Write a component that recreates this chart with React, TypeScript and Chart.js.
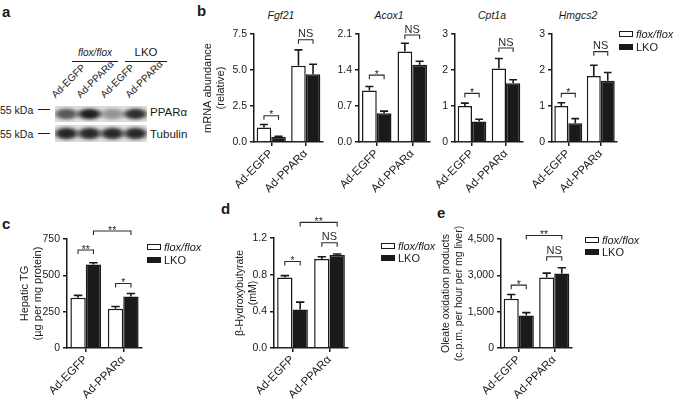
import React, { useEffect, useRef } from "react";
import { Chart, registerables } from "chart.js";

Chart.register(...registerables);

const FONT = "'Liberation Sans', Arial, Helvetica, sans-serif";
const INK = "#1a1a1a";

// ---------- data ----------
const groups = ["Ad-EGFP", "Ad-PPARα"];
const seriesNames = ["flox/flox", "LKO"];

// b: mRNA abundance (relative)
const fgf21Flox = [1.0, 5.3];
const fgf21FloxErr = [0.22, 1.1];
const fgf21Lko = [0.37, 4.7];
const fgf21LkoErr = [0.03, 0.7];
const fgf21Ticks = [0, 2.5, 5, 7.5];

const acox1Flox = [1.0, 1.76];
const acox1FloxErr = [0.08, 0.16];
const acox1Lko = [0.56, 1.5];
const acox1LkoErr = [0.04, 0.07];
const acox1Ticks = [0, 0.7, 1.4, 2.1];

const cpt1aFlox = [1.0, 2.04];
const cpt1aFloxErr = [0.08, 0.28];
const cpt1aLko = [0.57, 1.63];
const cpt1aLkoErr = [0.06, 0.1];
const cpt1aTicks = [0, 1, 2, 3];

const hmgcs2Flox = [1.0, 1.83];
const hmgcs2FloxErr = [0.09, 0.3];
const hmgcs2Lko = [0.52, 1.7];
const hmgcs2LkoErr = [0.13, 0.23];
const hmgcs2Ticks = [0, 1, 2, 3];

// c: hepatic TG
const tgFlox = [345, 270];
const tgFloxErr = [17, 16];
const tgLko = [575, 355];
const tgLkoErr = [12, 20];
const tgTicks = [0, 250, 500, 750];

// d: beta-hydroxybutyrate
const bhbFlox = [0.77, 0.97];
const bhbFloxErr = [0.02, 0.025];
const bhbLko = [0.42, 1.015];
const bhbLkoErr = [0.08, 0.01];
const bhbTicks = [0, 0.4, 0.8, 1.2];

// e: oleate oxidation
const oxFlox = [2030, 2910];
const oxFloxErr = [180, 180];
const oxLko = [1340, 3080];
const oxLkoErr = [120, 230];
const oxTicks = [0, 1500, 3000, 4500];

// significance brackets: from [dataset, category] to [dataset, category] at value y
type Bracket = { a: [number, number]; b: [number, number]; y: number; label: string };
const fgf21Sig: Bracket[] = [
  { a: [0, 0], b: [1, 0], y: 1.82, label: "*" },
  { a: [0, 1], b: [1, 1], y: 7.1, label: "NS" },
];
const acox1Sig: Bracket[] = [
  { a: [0, 0], b: [1, 0], y: 1.3, label: "*" },
  { a: [0, 1], b: [1, 1], y: 2.08, label: "NS" },
];
const cpt1aSig: Bracket[] = [
  { a: [0, 0], b: [1, 0], y: 1.35, label: "*" },
  { a: [0, 1], b: [1, 1], y: 2.61, label: "NS" },
];
const hmgcs2Sig: Bracket[] = [
  { a: [0, 0], b: [1, 0], y: 1.35, label: "*" },
  { a: [0, 1], b: [1, 1], y: 2.51, label: "NS" },
];
const tgSig: Bracket[] = [
  { a: [0, 0], b: [1, 0], y: 674, label: "**" },
  { a: [0, 1], b: [1, 1], y: 444, label: "*" },
  { a: [1, 0], b: [1, 1], y: 805, label: "**" },
];
const bhbSig: Bracket[] = [
  { a: [0, 0], b: [1, 0], y: 0.943, label: "*" },
  { a: [0, 1], b: [1, 1], y: 1.148, label: "NS" },
  { a: [1, 0], b: [1, 1], y: 1.37, label: "**" },
];
const oxSig: Bracket[] = [
  { a: [0, 0], b: [1, 0], y: 2595, label: "*" },
  { a: [0, 1], b: [1, 1], y: 3767, label: "NS" },
  { a: [1, 0], b: [1, 1], y: 4644, label: "**" },
];

// western blot
const blotLanes = ["Ad-EGFP", "Ad-PPARα", "Ad-EGFP", "Ad-PPARα"];
const pparBand = [0.7, 1.0, 0.38, 0.92];
const tubulinBand = [0.97, 0.95, 0.95, 0.95];

// ---------- plugins ----------
const errorBarPlugin = {
  id: "errorBars",
  afterDatasetsDraw(chart: any) {
    const { ctx } = chart;
    const ys = chart.scales.y;
    chart.data.datasets.forEach((ds: any, di: number) => {
      const meta = chart.getDatasetMeta(di);
      const errs = ds.errors || [];
      meta.data.forEach((bar: any, i: number) => {
        const v = ds.data[i];
        const e = errs[i];
        if (!e) return;
        const top = ys.getPixelForValue(v + e);
        const base = ys.getPixelForValue(v);
        const w = bar.width * 0.55;
        ctx.save();
        ctx.strokeStyle = INK;
        ctx.lineWidth = 1.6;
        ctx.beginPath();
        ctx.moveTo(bar.x, base);
        ctx.lineTo(bar.x, top);
        ctx.moveTo(bar.x - w / 2, top);
        ctx.lineTo(bar.x + w / 2, top);
        ctx.stroke();
        ctx.restore();
      });
    });
  },
};

function makeBracketPlugin(items: Bracket[]) {
  return {
    id: "sigBrackets",
    afterDraw(chart: any) {
      const { ctx } = chart;
      const ys = chart.scales.y;
      items.forEach((it) => {
        const xa = chart.getDatasetMeta(it.a[0]).data[it.a[1]].x;
        const xb = chart.getDatasetMeta(it.b[0]).data[it.b[1]].x;
        const yy = ys.getPixelForValue(it.y);
        ctx.save();
        ctx.strokeStyle = "#2a2a2a";
        ctx.lineWidth = 1.1;
        ctx.beginPath();
        ctx.moveTo(xa, yy + 4);
        ctx.lineTo(xa, yy);
        ctx.lineTo(xb, yy);
        ctx.lineTo(xb, yy + 4);
        ctx.stroke();
        ctx.fillStyle = "#2a2a2a";
        ctx.textAlign = "center";
        if (it.label.includes("*")) {
          ctx.font = `10.5px ${FONT}`;
          ctx.textBaseline = "alphabetic";
          ctx.fillText(it.label, (xa + xb) / 2, yy + 2.5);
        } else {
          ctx.font = `11px ${FONT}`;
          ctx.textBaseline = "bottom";
          ctx.fillText(it.label, (xa + xb) / 2, yy);
        }
        ctx.restore();
      });
    },
  };
}

// ---------- chart panel ----------
type Spec = {
  flox: number[];
  floxErr: number[];
  lko: number[];
  lkoErr: number[];
  ticks: number[];
  decimals: number;
  comma?: boolean;
  sig: Bracket[];
  title?: string[];
  L: number;
  R: number;
  T: number;
  B: number;
  yw: number;
  padT: number;
  padR: number;
  xh: number;
  cp: number;
  tickSize: number;
  xSize: number;
  titleSize: number;
};

function buildConfig(s: Spec): any {
  const axisLine = { display: true, color: INK, width: 1.5 };
  return {
    type: "bar",
    data: {
      labels: groups,
      datasets: [
        {
          label: seriesNames[0],
          data: s.flox,
          errors: s.floxErr,
          backgroundColor: "#ffffff",
          borderColor: INK,
          borderWidth: 1.5,
          borderSkipped: "start",
          categoryPercentage: s.cp,
          barPercentage: 1,
        },
        {
          label: seriesNames[1],
          data: s.lko,
          errors: s.lkoErr,
          backgroundColor: INK,
          borderColor: INK,
          borderWidth: 1.5,
          borderSkipped: "start",
          categoryPercentage: s.cp,
          barPercentage: 1,
        },
      ],
    },
    options: {
      animation: false,
      responsive: false,
      maintainAspectRatio: false,
      devicePixelRatio: 1,
      layout: { padding: { top: s.padT, left: 0, right: s.padR, bottom: 0 } },
      plugins: { legend: { display: false }, tooltip: { enabled: false }, title: { display: false } },
      scales: {
        x: {
          type: "category",
          offset: true,
          grid: { display: true, offset: false, drawOnChartArea: false, drawTicks: true, tickLength: 4, color: INK, lineWidth: 1.5 },
          border: axisLine,
          ticks: { minRotation: 45, maxRotation: 45, color: INK, padding: 1, font: { family: FONT, size: s.xSize } },
          afterFit: (sc: any) => {
            sc.height = s.xh;
          },
        },
        y: {
          min: 0,
          max: s.ticks[s.ticks.length - 1],
          afterBuildTicks: (sc: any) => {
            sc.ticks = s.ticks.map((v) => ({ value: v }));
          },
          grid: { display: true, drawOnChartArea: false, drawTicks: true, tickLength: 4, color: INK, lineWidth: 1.5 },
          border: axisLine,
          ticks: {
            color: INK,
            padding: 3,
            font: { family: FONT, size: s.tickSize },
            callback: (v: number) =>
              s.comma ? Number(v).toLocaleString("en-US") : Number(v).toFixed(s.decimals),
          },
          title: s.title
            ? { display: true, text: s.title, color: INK, padding: 0, font: { family: FONT, size: s.titleSize } }
            : { display: false },
          afterFit: (sc: any) => {
            sc.width = s.yw;
          },
        },
      },
    },
    plugins: [errorBarPlugin, makeBracketPlugin(s.sig)],
  };
}

function BarPanel({ s }: { s: Spec }) {
  const ref = useRef<HTMLCanvasElement | null>(null);
  useEffect(() => {
    const chart = new Chart(ref.current as HTMLCanvasElement, buildConfig(s));
    return () => chart.destroy();
  }, []);
  const w = Math.round(s.yw + (s.R - s.L) + s.padR);
  const h = Math.round(s.padT + (s.B - s.T) + s.xh);
  return (
    <canvas
      ref={ref}
      width={w}
      height={h}
      style={{ position: "absolute", left: s.L - s.yw, top: s.T - s.padT, width: w, height: h }}
    />
  );
}

// ---------- html helpers ----------
function Txt(props: {
  x: number;
  y: number;
  size?: number;
  italic?: boolean;
  bold?: boolean;
  align?: "left" | "center" | "right";
  children: any;
}) {
  const { x, y, size = 11, italic = false, bold = false, align = "left", children } = props;
  const tx = align === "center" ? "-50%" : align === "right" ? "-100%" : "0";
  return (
    <div
      style={{
        position: "absolute",
        left: x,
        top: y,
        fontFamily: FONT,
        fontSize: size,
        lineHeight: 1,
        fontStyle: italic ? "italic" : "normal",
        fontWeight: bold ? "bold" : "normal",
        color: INK,
        whiteSpace: "nowrap",
        transform: `translate(${tx}, -50%)`,
      }}
    >
      {children}
    </div>
  );
}

function Legend({ x, y, gap = 12.5, size = 11 }: { x: number; y: number; gap?: number; size?: number }) {
  const box = (top: number, fill: string) => (
    <div
      style={{
        position: "absolute",
        left: x,
        top,
        width: 14,
        height: 6,
        boxSizing: "border-box",
        border: `1.5px solid ${INK}`,
        background: fill,
      }}
    />
  );
  return (
    <>
      {box(y - 3, "#fff")}
      <Txt x={x + 17} y={y} size={size} italic>
        {seriesNames[0]}
      </Txt>
      {box(y + gap - 3, INK)}
      <Txt x={x + 17} y={y + gap} size={size}>
        {seriesNames[1]}
      </Txt>
    </>
  );
}

function Blot() {
  const stripL = 55;
  const laneW = 23;
  const strip = (top: number, vals: number[], h: number) => (
    <div
      style={{
        position: "absolute",
        left: stripL,
        top,
        width: laneW * 4,
        height: h,
        background: "#dedede",
        overflow: "hidden",
      }}
    >
      {vals.map((a, i) => (
        <div
          key={i}
          style={{
            position: "absolute",
            left: i * laneW - 2,
            top: 1,
            width: laneW + 4,
            height: h - 2,
            filter: "blur(1px)",
            background: `radial-gradient(ellipse 55% 50% at center, rgba(22,22,22,${a}) 0%, rgba(22,22,22,${a * 0.9}) 50%, rgba(22,22,22,${a * 0.35}) 80%, rgba(22,22,22,0) 100%)`,
          }}
        />
      ))}
    </div>
  );
  return (
    <>
      {strip(106, pparBand, 16)}
      {strip(125, tubulinBand, 17)}
      {blotLanes.map((t, i) => (
        <div
          key={i}
          style={{
            position: "absolute",
            left: 57 + i * 24.5,
            top: 100 - 10,
            height: 10,
            fontFamily: FONT,
            fontSize: 10,
            lineHeight: "10px",
            color: INK,
            whiteSpace: "nowrap",
            transformOrigin: "left bottom",
            transform: "rotate(-45deg)",
          }}
        >
          {t}
        </div>
      ))}
      <Txt x={95} y={53} size={10} italic align="center">
        flox/flox
      </Txt>
      <div style={{ position: "absolute", left: 72, top: 61, width: 46, height: 1, background: INK }} />
      <Txt x={146} y={53} size={11.5} align="center">
        LKO
      </Txt>
      <div style={{ position: "absolute", left: 125, top: 61, width: 42, height: 1, background: INK }} />
      <Txt x={0} y={110} size={10.5}>
        55 kDa
      </Txt>
      <div style={{ position: "absolute", left: 38, top: 109, width: 12, height: 1, background: INK }} />
      <Txt x={0} y={134} size={10.5}>
        55 kDa
      </Txt>
      <div style={{ position: "absolute", left: 38, top: 133, width: 12, height: 1, background: INK }} />
      <Txt x={150} y={113} size={11.5}>
        PPARα
      </Txt>
      <Txt x={150} y={135} size={11.5}>
        Tubulin
      </Txt>
    </>
  );
}

// ---------- specs ----------
const bBase = { T: 34, B: 142, padT: 14, padR: 12, xh: 55, tickSize: 10.5, xSize: 11.5, titleSize: 11 };
const cBase = { T: 239, B: 348, padT: 28, padR: 10, xh: 56, tickSize: 10.5, xSize: 11.5, titleSize: 11 };

const specFgf21: Spec = { ...bBase, flox: fgf21Flox, floxErr: fgf21FloxErr, lko: fgf21Lko, lkoErr: fgf21LkoErr, ticks: fgf21Ticks, decimals: 1, sig: fgf21Sig, title: ["mRNA abundance", "(relative)"], L: 254, R: 323, yw: 53, cp: 0.845 };
const specAcox1: Spec = { ...bBase, flox: acox1Flox, floxErr: acox1FloxErr, lko: acox1Lko, lkoErr: acox1LkoErr, ticks: acox1Ticks, decimals: 1, sig: acox1Sig, L: 359, R: 430, yw: 26, cp: 0.83 };
const specCpt1a: Spec = { ...bBase, flox: cpt1aFlox, floxErr: cpt1aFloxErr, lko: cpt1aLko, lkoErr: cpt1aLkoErr, ticks: cpt1aTicks, decimals: 0, sig: cpt1aSig, L: 455, R: 523, yw: 26, cp: 0.84 };
const specHmgcs2: Spec = { ...bBase, flox: hmgcs2Flox, floxErr: hmgcs2FloxErr, lko: hmgcs2Lko, lkoErr: hmgcs2LkoErr, ticks: hmgcs2Ticks, decimals: 0, sig: hmgcs2Sig, L: 552, R: 617, yw: 26, cp: 0.86 };
const specTG: Spec = { ...cBase, flox: tgFlox, floxErr: tgFloxErr, lko: tgLko, lkoErr: tgLkoErr, ticks: tgTicks, decimals: 0, sig: tgSig, title: ["Hepatic TG", "(µg per mg protein)"], L: 67, R: 142, yw: 49, cp: 0.82 };
const specBHB: Spec = { ...cBase, flox: bhbFlox, floxErr: bhbFloxErr, lko: bhbLko, lkoErr: bhbLkoErr, ticks: bhbTicks, decimals: 1, sig: bhbSig, title: ["β-Hydroxybutyrate", "(mM)"], L: 274, R: 348, T: 238, yw: 40, cp: 0.83, titleSize: 10.5 };
const specOx: Spec = { ...cBase, flox: oxFlox, floxErr: oxFloxErr, lko: oxLko, lkoErr: oxLkoErr, ticks: oxTicks, decimals: 0, comma: true, sig: oxSig, title: ["Oleate oxidation products", "(c.p.m. per hour per mg liver)"], L: 501, R: 572, yw: 61, cp: 0.85, titleSize: 10.5 };

export default function App() {
  return (
    <div
      style={{
        position: "fixed",
        left: 0,
        top: 0,
        width: 685,
        height: 404,
        background: "#fff",
        overflow: "hidden",
        fontFamily: FONT,
      }}
    >
      {/* panel letters */}
      <Txt x={2} y={11} size={15} bold>a</Txt>
      <Txt x={197} y={10} size={15} bold>b</Txt>
      <Txt x={2} y={223} size={15} bold>c</Txt>
      <Txt x={221} y={208} size={15} bold>d</Txt>
      <Txt x={437} y={212} size={15} bold>e</Txt>

      <Blot />

      {/* panel b titles */}
      <Txt x={281} y={15} size={10.5} italic align="center">Fgf21</Txt>
      <Txt x={389} y={15} size={10.5} italic align="center">Acox1</Txt>
      <Txt x={492} y={15} size={10.5} italic align="center">Cpt1a</Txt>
      <Txt x={578} y={15} size={10.5} italic align="center">Hmgcs2</Txt>

      <BarPanel s={specFgf21} />
      <BarPanel s={specAcox1} />
      <BarPanel s={specCpt1a} />
      <BarPanel s={specHmgcs2} />
      <Legend x={619} y={34} />

      <BarPanel s={specTG} />
      <Legend x={147} y={247} />

      <BarPanel s={specBHB} />
      <Legend x={381} y={245.5} />

      <BarPanel s={specOx} />
      <Legend x={585} y={239.5} />
    </div>
  );
}
